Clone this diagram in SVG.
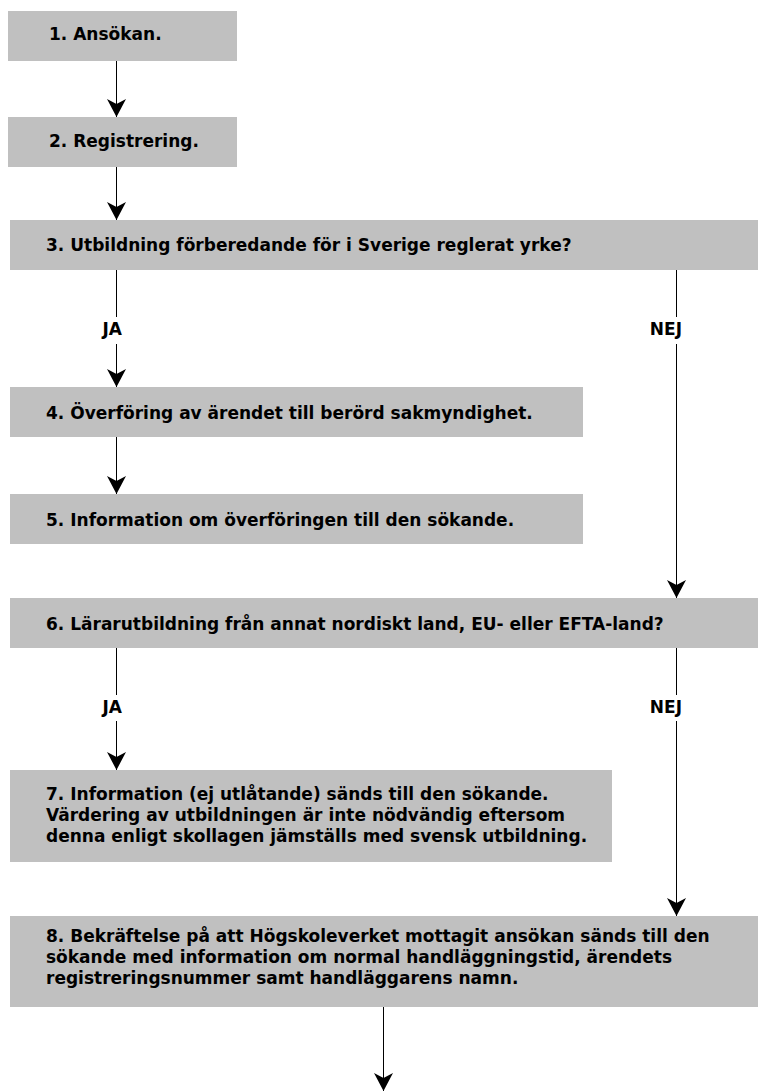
<svg xmlns="http://www.w3.org/2000/svg" width="758" height="1092" viewBox="0 0 758 1092">
<style>
.box{fill:#c0c0c0;stroke:none}
.t{font-family:"DejaVu Sans","Liberation Sans",sans-serif;font-weight:bold;font-size:17px;fill:#000}
.lbl{font-family:"DejaVu Sans","Liberation Sans",sans-serif;font-weight:bold;font-size:17px;fill:#000;text-anchor:end}
.ln{stroke:#000;stroke-width:1;fill:none}
.arr{stroke:#000;stroke-width:1;fill:none;marker-end:url(#ah)}
</style>
<defs>
<marker id="ah" markerUnits="userSpaceOnUse" viewBox="0 -10 18 20" refX="18" refY="0" markerWidth="18" markerHeight="20" orient="auto">
<path d="M0,-9.5 L5,0 L0,9.5 L18,0 Z" fill="#000"/>
</marker>
</defs>
<rect width="758" height="1092" fill="#fff"/>
<g id="n1"><rect class="box" x="8" y="11" width="229" height="50"/><text class="t" x="49" y="40">1. Ansökan.</text></g>
<g id="n2"><rect class="box" x="8" y="117" width="229" height="50"/><text class="t" x="49" y="147">2. Registrering.</text></g>
<g id="n3"><rect class="box" x="10" y="220" width="748" height="50"/><text class="t" x="46" y="251">3. Utbildning förberedande för i Sverige reglerat yrke?</text></g>
<g id="n4"><rect class="box" x="10" y="387" width="573" height="50"/><text class="t" x="46" y="419">4. Överföring av ärendet till berörd sakmyndighet.</text></g>
<g id="n5"><rect class="box" x="10" y="494" width="573" height="50"/><text class="t" x="46" y="526">5. Information om överföringen till den sökande.</text></g>
<g id="n6"><rect class="box" x="10" y="598" width="748" height="50"/><text class="t" x="46" y="630">6. Lärarutbildning från annat nordiskt land, EU- eller EFTA-land?</text></g>
<g id="n7"><rect class="box" x="10" y="770" width="602" height="92"/><text class="t"><tspan x="46" y="800">7. Information (ej utlåtande) sänds till den sökande.</tspan><tspan x="46" y="821">Värdering av utbildningen är inte nödvändig eftersom</tspan><tspan x="46" y="842">denna enligt skollagen jämställs med svensk utbildning.</tspan></text></g>
<g id="n8"><rect class="box" x="10" y="916" width="748" height="91"/><text class="t"><tspan x="46" y="942">8. Bekräftelse på att Högskoleverket mottagit ansökan sänds till den</tspan><tspan x="46" y="963">sökande med information om normal handläggningstid, ärendets</tspan><tspan x="46" y="984">registreringsnummer samt handläggarens namn.</tspan></text></g>
<g id="connectors">
<line class="arr" x1="116.5" y1="61" x2="116.5" y2="117"/>
<line class="arr" x1="116.5" y1="167" x2="116.5" y2="220"/>
<line class="ln" x1="116.5" y1="270" x2="116.5" y2="317"/>
<text class="lbl" x="122" y="335">JA</text>
<line class="arr" x1="116.5" y1="344" x2="116.5" y2="387"/>
<line class="ln" x1="676.5" y1="270" x2="676.5" y2="317"/>
<text class="lbl" x="682" y="335">NEJ</text>
<line class="arr" x1="676.5" y1="344" x2="676.5" y2="598"/>
<line class="arr" x1="116.5" y1="437" x2="116.5" y2="494"/>
<line class="ln" x1="116.5" y1="648" x2="116.5" y2="695"/>
<text class="lbl" x="122" y="713">JA</text>
<line class="arr" x1="116.5" y1="721" x2="116.5" y2="770"/>
<line class="ln" x1="676.5" y1="648" x2="676.5" y2="695"/>
<text class="lbl" x="682" y="713">NEJ</text>
<line class="arr" x1="676.5" y1="721" x2="676.5" y2="916"/>
<line class="arr" x1="383.5" y1="1007" x2="383.5" y2="1091"/>
</g>
</svg>
